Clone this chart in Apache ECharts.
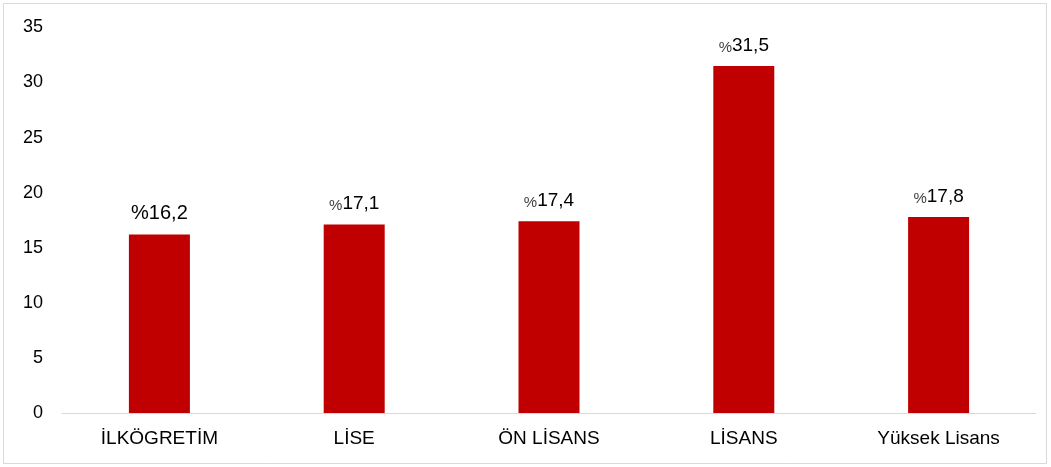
<!DOCTYPE html>
<html>
<head>
<meta charset="utf-8">
<script src="https://cdn.jsdelivr.net/npm/echarts@6/dist/echarts.min.js"></script>
<style>
  html, body { margin: 0; padding: 0; background: #fff; }
  #chart { width: 1051px; height: 467px; }
</style>
</head>
<body>
<div id="chart"></div>
<script>
// Education levels and their percentages
const categories = ['İLKÖGRETİM', 'LİSE', 'ÖN LİSANS', 'LİSANS', 'Yüksek Lisans'];
const values = [16.2, 17.1, 17.4, 31.5, 17.8];
const yTicks = [0, 5, 10, 15, 20, 25, 30, 35];

const fontFamily = 'Liberation Sans, Arial, sans-serif';

const chart = echarts.init(document.getElementById('chart'), null, { renderer: 'canvas' });

function fmt(v) {
  return v.toFixed(1).replace('.', ',');
}

chart.setOption({
  animation: false,
  backgroundColor: '#fff',
  graphic: [{
    type: 'rect',
    shape: { x: 3.5, y: 3.5, width: 1043, height: 460 },
    style: { fill: 'none', stroke: '#d9d9d9', lineWidth: 1 },
    silent: true
  }],
  grid: { left: 62, right: 15, top: 27.4, bottom: 54 },
  xAxis: {
    type: 'category',
    data: categories,
    axisLine: { show: true, lineStyle: { color: '#d9d9d9', width: 1 } },
    axisTick: { show: false },
    axisLabel: {
      color: '#000',
      fontFamily: fontFamily,
      fontSize: 19,
      margin: 16
    }
  },
  yAxis: {
    type: 'value',
    min: yTicks[0],
    max: yTicks[yTicks.length - 1],
    interval: yTicks[1] - yTicks[0],
    splitLine: { show: false },
    axisLine: { show: false },
    axisTick: { show: false },
    axisLabel: {
      color: '#000',
      fontFamily: fontFamily,
      fontSize: 18,
      margin: 19
    }
  },
  series: [{
    type: 'bar',
    data: values,
    barWidth: 61,
    itemStyle: { color: '#C00000' },
    label: {
      show: true,
      position: 'top',
      distance: 11,
      fontFamily: fontFamily,
      formatter: function (p) {
        if (p.dataIndex === 0) {
          return '{big|%' + fmt(p.value) + '}';
        }
        return '{pct|%}{num|' + fmt(p.value) + '}';
      },
      rich: {
        big: { fontSize: 20, color: '#000', fontFamily: fontFamily },
        pct: { fontSize: 15, color: '#404040', fontFamily: fontFamily, verticalAlign: 'bottom' },
        num: { fontSize: 19, color: '#000', fontFamily: fontFamily }
      }
    }
  }]
});
</script>
</body>
</html>
